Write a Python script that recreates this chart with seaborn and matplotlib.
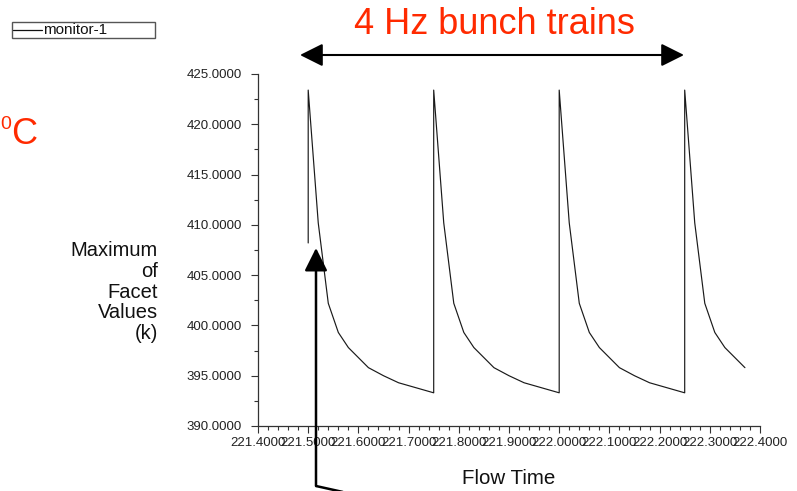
import matplotlib
matplotlib.use("Agg")
import matplotlib.pyplot as plt
import matplotlib.ticker as mticker
from matplotlib.patches import FancyArrowPatch, Rectangle
from matplotlib.lines import Line2D
import numpy as np
import pandas as pd
import seaborn as sns

# Monitor history: maximum facet temperature (K) versus flow time (s)
flow_time = [
    221.500, 221.500, 221.520, 221.540, 221.560, 221.580, 221.620, 221.650, 221.680, 221.750,
    221.750, 221.770, 221.790, 221.810, 221.830, 221.870, 221.900, 221.930, 222.000,
    222.000, 222.020, 222.040, 222.060, 222.080, 222.120, 222.150, 222.180, 222.250,
    222.250, 222.270, 222.290, 222.310, 222.330, 222.370,
]
facet_max = [
    408.2, 423.4, 410.2, 402.2, 399.3, 397.8, 395.8, 395.0, 394.3, 393.3,
    423.4, 410.2, 402.2, 399.3, 397.8, 395.8, 395.0, 394.3, 393.3,
    423.4, 410.2, 402.2, 399.3, 397.8, 395.8, 395.0, 394.3, 393.3,
    423.4, 410.2, 402.2, 399.3, 397.8, 395.8,
]
series_name = "monitor-1"
x_title = "Flow Time"
y_title = "Maximum\nof\nFacet\nValues\n(k)"
banner = "4 Hz bunch trains"

df = pd.DataFrame({"t": flow_time, "v": facet_max, "s": series_name})

sns.set_style("ticks")
plt.rcParams["font.family"] = ["Liberation Sans", "DejaVu Sans"]

W, H = 797, 491
fig = plt.figure(figsize=(W / 100, H / 100), dpi=100)


def fx(px):
    return px / W


def fy(py):
    return 1 - py / H


ax_l, ax_r, ax_t, ax_b = 258, 760, 74, 426
ax = fig.add_axes([fx(ax_l), fy(ax_b), (ax_r - ax_l) / W, (ax_b - ax_t) / H])

sns.lineplot(data=df, x="t", y="v", sort=False, estimator=None, ax=ax,
             color="#1a1a1a", linewidth=0.85, legend=False)

ax.set_xlim(221.4, 222.4)
ax.set_ylim(390, 425)
ax.xaxis.set_major_locator(mticker.MultipleLocator(0.1))
ax.xaxis.set_minor_locator(mticker.MultipleLocator(0.02))
ax.yaxis.set_major_locator(mticker.MultipleLocator(5))
ax.yaxis.set_minor_locator(mticker.MultipleLocator(2.5))
ax.xaxis.set_major_formatter(mticker.FormatStrFormatter("%.4f"))
ax.yaxis.set_major_formatter(mticker.FormatStrFormatter("%.4f"))

for side in ("top", "right"):
    ax.spines[side].set_visible(False)
for side in ("left", "bottom"):
    ax.spines[side].set_color("#333333")
    ax.spines[side].set_linewidth(0.9)

ax.tick_params(axis="both", which="major", direction="out", length=4.8,
               width=0.8, color="#333333", labelsize=9.5, labelcolor="#222222")
ax.tick_params(axis="both", which="minor", direction="out", length=3,
               width=0.8, color="#333333")
ax.tick_params(axis="y", which="major", pad=7)
ax.tick_params(axis="x", which="major", pad=3)

ax.set_xlabel(x_title, fontsize=14.8, color="#111111")
ax.xaxis.set_label_coords(0.5, (ax_b - 478) / (ax_b - ax_t))
ax.xaxis.label.set_va("center")

ax.set_ylabel(y_title, fontsize=14.5, rotation=0, ha="right", va="center",
              multialignment="right", linespacing=1.12, color="#111111")
ax.yaxis.set_label_coords((158 - ax_l) / (ax_r - ax_l), (ax_b - 292) / (ax_b - ax_t))

# legend box with the series name
fig.add_artist(Rectangle((fx(12), fy(37.5)), (155 - 12) / W, 15 / H,
                         transform=fig.transFigure, fill=False,
                         edgecolor="#555555", linewidth=1.0))
fig.add_artist(Line2D([fx(13), fx(42)], [fy(30), fy(30)], transform=fig.transFigure,
                      color="#111111", linewidth=0.9))
fig.text(fx(43), fy(30), series_name, fontsize=11, ha="left", va="center",
         color="#111111")

# banner and span arrow
red = "#ff2a00"
fig.text(fx(494), fy(25), banner, fontsize=26, color=red, ha="center", va="center")
fig.add_artist(FancyArrowPatch((fx(300), fy(55)), (fx(684), fy(55)),
                               transform=fig.transFigure,
                               arrowstyle="<|-|>,head_length=1.4,head_width=0.7",
                               mutation_scale=10, color="black", linewidth=1.5,
                               shrinkA=0, shrinkB=0))

# degree label at the left edge
fig.text(fx(0.5), fy(125), "0", fontsize=14, color=red, ha="left", va="center")
fig.text(fx(11), fy(135), "C", fontsize=26, color=red, ha="left", va="center")

# pointer arrow to the first bunch
fig.add_artist(FancyArrowPatch((fx(316), fy(486)), (fx(316), fy(248)),
                               transform=fig.transFigure,
                               arrowstyle="-|>,head_length=1.4,head_width=0.7",
                               mutation_scale=10, color="black", linewidth=1.8,
                               shrinkA=0, shrinkB=0))
fig.add_artist(Line2D([fx(316), fx(352)], [fy(486), fy(494)], transform=fig.transFigure,
                      color="black", linewidth=1.8, solid_capstyle="butt"))

fig.savefig("out.png", dpi=100)
